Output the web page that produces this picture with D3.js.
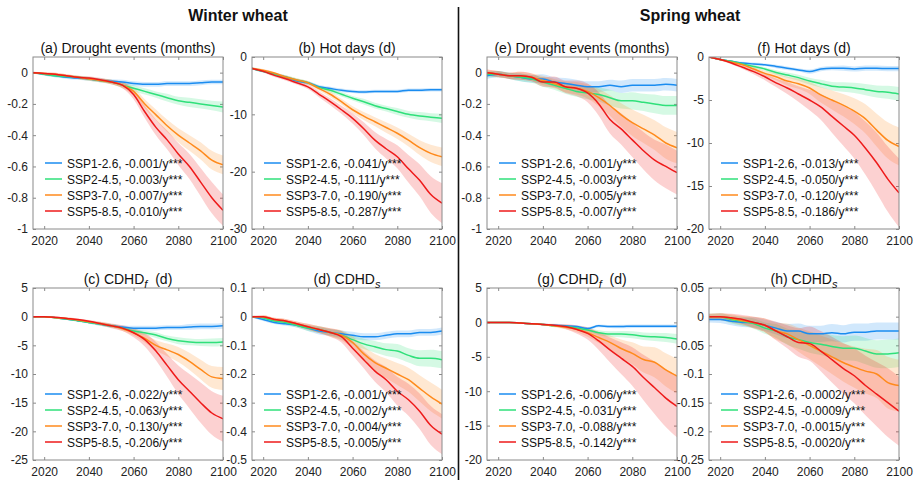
<!DOCTYPE html>
<html>
<head>
<meta charset="utf-8">
<script src="https://cdn.jsdelivr.net/npm/d3@7"></script>
<style>
  body { margin: 0; background: #fff; }
  svg { font-family: Arial, "Liberation Sans", sans-serif; }
  .box { fill: none; stroke: #8a8a8a; stroke-width: 1; }
  .tick line { stroke: #8a8a8a; }
  .tick text { fill: #222; font-size: 12px; }
  .ptitle { font-size: 14px; fill: #111; text-anchor: middle; }
  .gtitle { font-size: 16px; font-weight: bold; fill: #111; text-anchor: middle; }
  .legend text { font-size: 12px; fill: #111; }
</style>
</head>
<body>
<svg id="chart" width="916" height="480"></svg>
<script>
// ---- data ----
const years = [2015, 2020, 2025, 2030, 2035, 2040, 2045, 2050, 2055, 2060, 2065, 2070, 2075, 2080, 2085, 2090, 2095, 2100]
const scenarios = ["SSP1-2.6", "SSP2-4.5", "SSP3-7.0", "SSP5-8.5"]
const colors = ["#1a8cf0", "#2fe07a", "#ff8a1c", "#ee1a1a"]
const xTicks = [2020, 2040, 2060, 2080, 2100]

// (a) winter wheat, drought events
const aMean = [
  [0, -0.01, -0.02, -0.03, -0.035, -0.04, -0.05, -0.055, -0.06, -0.07, -0.075, -0.075, -0.07, -0.07, -0.07, -0.065, -0.06, -0.06],
  [0, -0.01, -0.02, -0.025, -0.03, -0.04, -0.05, -0.06, -0.08, -0.1, -0.12, -0.14, -0.16, -0.18, -0.19, -0.2, -0.21, -0.22],
  [0, -0.005, -0.01, -0.02, -0.03, -0.04, -0.05, -0.06, -0.08, -0.12, -0.2, -0.27, -0.34, -0.4, -0.45, -0.5, -0.56, -0.59],
  [0, -0.005, -0.01, -0.02, -0.03, -0.035, -0.045, -0.06, -0.08, -0.14, -0.25, -0.35, -0.43, -0.52, -0.6, -0.7, -0.8, -0.88]]
const aSpread = [
  [0.005, 0.008, 0.01, 0.01, 0.01, 0.012, 0.012, 0.012, 0.015, 0.015, 0.015, 0.015, 0.015, 0.015, 0.015, 0.015, 0.015, 0.015],
  [0.005, 0.008, 0.01, 0.01, 0.01, 0.012, 0.012, 0.015, 0.015, 0.02, 0.02, 0.02, 0.025, 0.025, 0.03, 0.03, 0.03, 0.035],
  [0.005, 0.008, 0.01, 0.01, 0.01, 0.012, 0.012, 0.015, 0.02, 0.025, 0.03, 0.035, 0.04, 0.045, 0.05, 0.055, 0.06, 0.06],
  [0.005, 0.008, 0.01, 0.01, 0.01, 0.012, 0.012, 0.015, 0.02, 0.03, 0.04, 0.05, 0.06, 0.07, 0.08, 0.09, 0.1, 0.1]]
const aTrend = ["-0.001", "-0.003", "-0.007", "-0.010"]
const aTicks = [-1, -0.8, -0.6, -0.4, -0.2, 0]
const aRange = [-1, 0.1]

// (b) winter wheat, hot days
const bMean = [
  [-2, -2.5, -3, -3.5, -4.2, -4.5, -5.2, -5.5, -5.8, -6, -6.1, -6, -6, -6, -5.8, -5.8, -5.7, -5.7],
  [-2, -2.5, -3, -3.5, -4, -4.5, -5.3, -5.8, -6.5, -7.2, -7.8, -8.5, -9, -9.5, -10, -10.3, -10.5, -10.7],
  [-2, -2.3, -2.8, -3.5, -4, -4.5, -5.5, -6.5, -7.8, -9.2, -10.3, -11.3, -12.3, -13.3, -14.5, -15.8, -16.8, -17.4],
  [-2, -2.5, -3.2, -3.8, -4.5, -5.2, -6.5, -7.8, -9.2, -10.7, -12.5, -14.5, -16, -17.4, -19.5, -21.5, -24, -25.5]]
const bSpread = [
  [0.2, 0.2, 0.2, 0.3, 0.3, 0.3, 0.3, 0.3, 0.3, 0.3, 0.3, 0.3, 0.3, 0.3, 0.3, 0.3, 0.3, 0.3],
  [0.2, 0.2, 0.2, 0.3, 0.3, 0.3, 0.3, 0.4, 0.4, 0.4, 0.5, 0.5, 0.5, 0.6, 0.6, 0.7, 0.7, 0.8],
  [0.2, 0.2, 0.2, 0.3, 0.3, 0.3, 0.4, 0.5, 0.5, 0.6, 0.7, 0.8, 0.9, 1.0, 1.1, 1.3, 1.5, 1.6],
  [0.2, 0.2, 0.3, 0.3, 0.3, 0.4, 0.5, 0.6, 0.7, 0.9, 1.1, 1.4, 1.7, 2.0, 2.4, 2.8, 3.2, 3.5]]
const bTrend = ["-0.041", "-0.111", "-0.190", "-0.287"]
const bTicks = [-30, -20, -10, 0]
const bRange = [-30, 0]

// (c) winter wheat, CDHD_f
const cMean = [
  [0, 0, -0.2, -0.4, -0.7, -1.0, -1.3, -1.6, -1.8, -2.0, -2.0, -2.0, -1.9, -1.9, -1.8, -1.7, -1.7, -1.6],
  [0, 0, -0.2, -0.4, -0.7, -1.0, -1.3, -1.6, -2.0, -2.5, -2.8, -3.2, -3.8, -4.2, -4.4, -4.5, -4.5, -4.4],
  [0, 0, -0.2, -0.3, -0.6, -0.9, -1.2, -1.6, -2.1, -2.8, -3.8, -5, -5.8, -6.6, -7.8, -9.2, -10.5, -10.8],
  [0, 0, -0.1, -0.3, -0.5, -0.8, -1.2, -1.6, -2.0, -2.8, -4, -6, -8.5, -11, -13, -15, -16.8, -17.8]]
const cSpread = [
  [0.1, 0.1, 0.1, 0.2, 0.2, 0.2, 0.3, 0.3, 0.3, 0.4, 0.4, 0.4, 0.4, 0.4, 0.5, 0.5, 0.5, 0.5],
  [0.1, 0.1, 0.1, 0.2, 0.2, 0.2, 0.3, 0.3, 0.3, 0.4, 0.4, 0.5, 0.5, 0.6, 0.6, 0.6, 0.7, 0.7],
  [0.1, 0.1, 0.1, 0.2, 0.2, 0.2, 0.3, 0.3, 0.4, 0.5, 0.7, 0.9, 1.1, 1.3, 1.5, 1.7, 1.9, 2.0],
  [0.1, 0.1, 0.1, 0.2, 0.2, 0.2, 0.3, 0.4, 0.5, 0.8, 1.2, 1.6, 2.0, 2.5, 3.0, 3.5, 3.8, 4.0]]
const cTrend = ["-0.022", "-0.063", "-0.130", "-0.206"]
const cTicks = [-25, -20, -15, -10, -5, 0, 5]
const cRange = [-25, 5]

// (d) winter wheat, CDHD_s
const dMean = [
  [0, -0.01, -0.02, -0.025, -0.03, -0.04, -0.05, -0.055, -0.06, -0.065, -0.07, -0.07, -0.065, -0.06, -0.06, -0.055, -0.055, -0.05],
  [0, -0.005, -0.015, -0.02, -0.03, -0.04, -0.045, -0.055, -0.065, -0.08, -0.095, -0.105, -0.115, -0.12, -0.135, -0.145, -0.145, -0.15],
  [0, 0, -0.01, -0.015, -0.025, -0.035, -0.045, -0.055, -0.065, -0.09, -0.13, -0.16, -0.18, -0.2, -0.22, -0.25, -0.28, -0.305],
  [0, 0, -0.01, -0.015, -0.025, -0.035, -0.045, -0.055, -0.07, -0.11, -0.15, -0.19, -0.22, -0.26, -0.29, -0.33, -0.38, -0.41]]
const dSpread = [
  [0.003, 0.005, 0.006, 0.007, 0.008, 0.01, 0.012, 0.012, 0.012, 0.012, 0.012, 0.012, 0.012, 0.012, 0.012, 0.012, 0.012, 0.012],
  [0.003, 0.005, 0.006, 0.007, 0.008, 0.01, 0.012, 0.012, 0.015, 0.015, 0.018, 0.02, 0.022, 0.025, 0.025, 0.028, 0.03, 0.03],
  [0.003, 0.005, 0.006, 0.007, 0.008, 0.01, 0.012, 0.015, 0.018, 0.022, 0.026, 0.03, 0.034, 0.038, 0.042, 0.046, 0.05, 0.05],
  [0.003, 0.005, 0.006, 0.007, 0.008, 0.01, 0.012, 0.015, 0.02, 0.025, 0.03, 0.037, 0.044, 0.05, 0.056, 0.062, 0.068, 0.07]]
const dTrend = ["-0.001", "-0.002", "-0.004", "-0.005"]
const dTicks = [-0.5, -0.4, -0.3, -0.2, -0.1, 0, 0.1]
const dRange = [-0.5, 0.1]

// (e) spring wheat, drought events
const eMean = [
  [-0.02, -0.01, -0.02, -0.03, -0.04, -0.04, -0.06, -0.07, -0.08, -0.09, -0.09, -0.08, -0.09, -0.08, -0.08, -0.08, -0.075, -0.08],
  [-0.01, -0.01, -0.02, -0.03, -0.04, -0.06, -0.08, -0.1, -0.12, -0.13, -0.14, -0.16, -0.18, -0.18, -0.19, -0.2, -0.21, -0.21],
  [0, -0.01, -0.02, -0.02, -0.03, -0.05, -0.07, -0.09, -0.1, -0.12, -0.16, -0.21, -0.27, -0.32, -0.36, -0.4, -0.45, -0.48],
  [0, -0.01, -0.02, -0.02, -0.03, -0.06, -0.06, -0.09, -0.1, -0.13, -0.2, -0.3, -0.36, -0.43, -0.5, -0.56, -0.6, -0.64]]
const eSpread = [
  [0.02, 0.02, 0.02, 0.025, 0.025, 0.03, 0.03, 0.035, 0.035, 0.035, 0.035, 0.035, 0.04, 0.04, 0.04, 0.04, 0.04, 0.04],
  [0.02, 0.02, 0.02, 0.025, 0.025, 0.03, 0.03, 0.035, 0.035, 0.04, 0.045, 0.05, 0.05, 0.055, 0.055, 0.06, 0.06, 0.06],
  [0.02, 0.02, 0.02, 0.025, 0.025, 0.03, 0.03, 0.035, 0.04, 0.045, 0.055, 0.065, 0.075, 0.085, 0.09, 0.095, 0.1, 0.1],
  [0.02, 0.02, 0.02, 0.025, 0.025, 0.03, 0.035, 0.04, 0.05, 0.06, 0.075, 0.09, 0.1, 0.11, 0.12, 0.13, 0.14, 0.14]]
const eTrend = ["-0.001", "-0.003", "-0.005", "-0.007"]
const eTicks = [-1, -0.8, -0.6, -0.4, -0.2, 0]
const eRange = [-1, 0.1]

// (f) spring wheat, hot days
const fMean = [
  [0, -0.3, -0.5, -0.7, -0.8, -0.9, -1.1, -1.3, -1.5, -1.7, -1.4, -1.3, -1.3, -1.4, -1.3, -1.3, -1.35, -1.35],
  [0, -0.3, -0.5, -0.8, -1.1, -1.4, -1.8, -2.1, -2.4, -2.8, -3.1, -3.4, -3.5, -3.6, -3.8, -4.0, -4.1, -4.3],
  [0, -0.3, -0.6, -0.9, -1.4, -1.9, -2.3, -2.8, -3.1, -3.6, -4.4, -5.0, -5.6, -6.3, -7.2, -8.5, -9.7, -10.4],
  [0, -0.3, -0.7, -1.2, -1.7, -2.3, -3.0, -3.6, -4.3, -5.0, -5.8, -6.9, -8.0, -9.1, -10.6, -12.3, -14.2, -15.8]]
const fSpread = [
  [0.1, 0.1, 0.1, 0.15, 0.15, 0.15, 0.2, 0.2, 0.2, 0.25, 0.25, 0.25, 0.3, 0.3, 0.3, 0.3, 0.3, 0.3],
  [0.1, 0.1, 0.1, 0.15, 0.2, 0.2, 0.25, 0.3, 0.35, 0.4, 0.45, 0.5, 0.55, 0.6, 0.65, 0.7, 0.75, 0.8],
  [0.1, 0.1, 0.15, 0.2, 0.25, 0.3, 0.4, 0.5, 0.6, 0.7, 0.9, 1.1, 1.3, 1.5, 1.7, 1.9, 2.1, 2.2],
  [0.1, 0.1, 0.15, 0.2, 0.3, 0.4, 0.5, 0.7, 0.9, 1.2, 1.5, 1.9, 2.3, 2.7, 3.1, 3.5, 3.8, 4.0]]
const fTrend = ["-0.013", "-0.050", "-0.120", "-0.186"]
const fTicks = [-20, -15, -10, -5, 0]
const fRange = [-20, 0]

// (g) spring wheat, CDHD_f
const gMean = [
  [0, 0, 0, -0.1, -0.2, -0.3, -0.4, -0.5, -0.6, -0.9, -0.5, -0.6, -0.6, -0.55, -0.55, -0.55, -0.55, -0.55],
  [0, 0, 0, -0.1, -0.2, -0.3, -0.5, -0.6, -0.8, -1.1, -1.5, -1.7, -1.7, -1.8, -2.0, -2.1, -2.2, -2.4],
  [0, 0, 0, -0.1, -0.2, -0.3, -0.5, -0.7, -1.0, -1.5, -2.2, -2.9, -3.8, -4.5, -5.4, -5.8, -6.9, -7.8],
  [0, 0, 0, -0.1, -0.2, -0.3, -0.4, -0.6, -1.0, -1.6, -2.7, -4.0, -5.2, -6.4, -8.0, -9.5, -11, -12.2]]
const gSpread = [
  [0.05, 0.05, 0.05, 0.1, 0.1, 0.1, 0.15, 0.15, 0.2, 0.2, 0.2, 0.2, 0.25, 0.25, 0.25, 0.25, 0.25, 0.25],
  [0.05, 0.05, 0.05, 0.1, 0.1, 0.1, 0.15, 0.2, 0.25, 0.3, 0.35, 0.4, 0.45, 0.5, 0.55, 0.6, 0.65, 0.7],
  [0.05, 0.05, 0.05, 0.1, 0.1, 0.15, 0.2, 0.3, 0.4, 0.6, 0.8, 1.0, 1.3, 1.6, 1.9, 2.2, 2.4, 2.5],
  [0.05, 0.05, 0.05, 0.1, 0.1, 0.15, 0.2, 0.35, 0.6, 0.9, 1.3, 1.8, 2.3, 2.8, 3.3, 3.8, 4.2, 4.5]]
const gTrend = ["-0.006", "-0.031", "-0.088", "-0.142"]
const gTicks = [-20, -15, -10, -5, 0, 5]
const gRange = [-20, 5]

// (h) spring wheat, CDHD_s
const hMean = [
  [-0.005, -0.005, -0.008, -0.01, -0.01, -0.015, -0.02, -0.025, -0.025, -0.03, -0.03, -0.028, -0.03, -0.027, -0.027, -0.025, -0.025, -0.025],
  [0, 0, -0.005, -0.008, -0.012, -0.02, -0.025, -0.035, -0.04, -0.045, -0.048, -0.052, -0.055, -0.055, -0.06, -0.065, -0.065, -0.063],
  [0, 0, -0.003, -0.007, -0.01, -0.015, -0.025, -0.03, -0.04, -0.05, -0.06, -0.07, -0.08, -0.088, -0.095, -0.1, -0.115, -0.12],
  [0, 0, -0.002, -0.005, -0.01, -0.015, -0.025, -0.035, -0.045, -0.047, -0.06, -0.075, -0.09, -0.103, -0.12, -0.135, -0.15, -0.165]]
const hSpread = [
  [0.005, 0.006, 0.007, 0.008, 0.009, 0.01, 0.011, 0.012, 0.013, 0.014, 0.014, 0.015, 0.015, 0.015, 0.015, 0.015, 0.015, 0.015],
  [0.005, 0.006, 0.007, 0.008, 0.009, 0.01, 0.012, 0.014, 0.016, 0.018, 0.019, 0.02, 0.021, 0.022, 0.023, 0.024, 0.025, 0.025],
  [0.005, 0.006, 0.007, 0.008, 0.01, 0.012, 0.015, 0.018, 0.021, 0.024, 0.027, 0.03, 0.033, 0.036, 0.039, 0.042, 0.045, 0.045],
  [0.005, 0.006, 0.007, 0.008, 0.01, 0.012, 0.016, 0.02, 0.025, 0.03, 0.035, 0.04, 0.044, 0.048, 0.052, 0.056, 0.06, 0.06]]
const hTrend = ["-0.0002", "-0.0009", "-0.0015", "-0.0020"]
const hTicks = [-0.25, -0.2, -0.15, -0.1, -0.05, 0, 0.05]
const hRange = [-0.25, 0.05]

// ---- layout ----
const colX = [33, 252, 487, 709]
const rowY = [57, 288]
const pw = 190
const ph = 172

const panels = [
  {col: 0, row: 0, title: ["(a) Drought events (months)"], mean: aMean, spread: aSpread, trend: aTrend, ticks: aTicks, range: aRange},
  {col: 1, row: 0, title: ["(b) Hot days (d)"], mean: bMean, spread: bSpread, trend: bTrend, ticks: bTicks, range: bRange},
  {col: 0, row: 1, title: ["(c) CDHD", "f", "  (d)"], mean: cMean, spread: cSpread, trend: cTrend, ticks: cTicks, range: cRange},
  {col: 1, row: 1, title: ["(d) CDHD", "s", ""], mean: dMean, spread: dSpread, trend: dTrend, ticks: dTicks, range: dRange},
  {col: 2, row: 0, title: ["(e) Drought events (months)"], mean: eMean, spread: eSpread, trend: eTrend, ticks: eTicks, range: eRange},
  {col: 3, row: 0, title: ["(f) Hot days (d)"], mean: fMean, spread: fSpread, trend: fTrend, ticks: fTicks, range: fRange},
  {col: 2, row: 1, title: ["(g) CDHD", "f", "  (d)"], mean: gMean, spread: gSpread, trend: gTrend, ticks: gTicks, range: gRange},
  {col: 3, row: 1, title: ["(h) CDHD", "s", ""], mean: hMean, spread: hSpread, trend: hTrend, ticks: hTicks, range: hRange}
]

const svg = d3.select("#chart")
const fmt = d => String(+d.toFixed(4))

svg.append("text").attr("class", "gtitle").attr("x", 238).attr("y", 21).text("Winter wheat")
svg.append("text").attr("class", "gtitle").attr("x", 690).attr("y", 21).text("Spring wheat")
svg.append("line")
  .attr("x1", 458.5).attr("x2", 458.5).attr("y1", 7).attr("y2", 480)
  .attr("stroke", "#111").attr("stroke-width", 1.6)

panels.forEach((p, i) => {
  let x0 = colX[p.col], y0 = rowY[p.row]
  let xScale = d3.scaleLinear().domain([2015, 2100]).range([0, pw])
  let yScale = d3.scaleLinear().domain(p.range).range([ph, 0])
  let g = svg.append("g").attr("transform", "translate(" + x0 + "," + y0 + ")")

  g.append("clipPath").attr("id", "clip" + i)
    .append("rect").attr("width", pw).attr("height", ph)

  // axes, MATLAB style with inward ticks on all sides
  g.append("g").attr("transform", "translate(0," + ph + ")")
    .call(d3.axisBottom(xScale).tickValues(xTicks).tickFormat(d3.format("d")).tickSizeInner(-3).tickSizeOuter(0).tickPadding(7))
  g.append("g")
    .call(d3.axisTop(xScale).tickValues(xTicks).tickFormat("").tickSizeInner(-3).tickSizeOuter(0))
  g.append("g")
    .call(d3.axisLeft(yScale).tickValues(p.ticks).tickFormat(fmt).tickSizeInner(-3).tickSizeOuter(0).tickPadding(5))
  g.append("g").attr("transform", "translate(" + pw + ",0)")
    .call(d3.axisRight(yScale).tickValues(p.ticks).tickFormat("").tickSizeInner(-3).tickSizeOuter(0))
  g.selectAll(".domain").remove()

  let plot = g.append("g").attr("clip-path", "url(#clip" + i + ")")
  let area = d3.area()
    .x((d, j) => xScale(years[j]))
    .y0(d => yScale(d[0] - d[1]))
    .y1(d => yScale(d[0] + d[1]))
    .curve(d3.curveMonotoneX)
  let line = d3.line()
    .x((d, j) => xScale(years[j]))
    .y(d => yScale(d))
    .curve(d3.curveMonotoneX)

  p.mean.forEach((m, k) => {
    plot.append("path")
      .datum(m.map((v, j) => [v, p.spread[k][j]]))
      .attr("d", area)
      .attr("fill", colors[k])
      .attr("fill-opacity", 0.2)
  })
  p.mean.forEach((m, k) => {
    plot.append("path")
      .datum(m)
      .attr("d", line)
      .attr("fill", "none")
      .attr("stroke", colors[k])
      .attr("stroke-width", 1.5)
  })

  g.append("rect").attr("class", "box").attr("width", pw).attr("height", ph)

  // title with optional italic subscript
  let t = g.append("text").attr("class", "ptitle").attr("x", pw / 2).attr("y", -4)
  t.append("tspan").text(p.title[0])
  if (p.title.length > 1) {
    t.append("tspan").attr("dy", 4).attr("font-style", "italic").attr("font-size", "11px").text(p.title[1])
    t.append("tspan").attr("dy", -4).attr("xml:space", "preserve").text(p.title[2])
  }

  // legend
  let leg = g.append("g").attr("class", "legend")
  scenarios.forEach((s, k) => {
    let ly = 106 + k * 16
    leg.append("line")
      .attr("x1", 12).attr("x2", 29).attr("y1", ly).attr("y2", ly)
      .attr("stroke", colors[k]).attr("stroke-width", 1.5)
    leg.append("text")
      .attr("x", 34).attr("y", ly + 4.5)
      .text(s + ", " + p.trend[k] + "/y***")
  })
})
</script>
</body>
</html>
